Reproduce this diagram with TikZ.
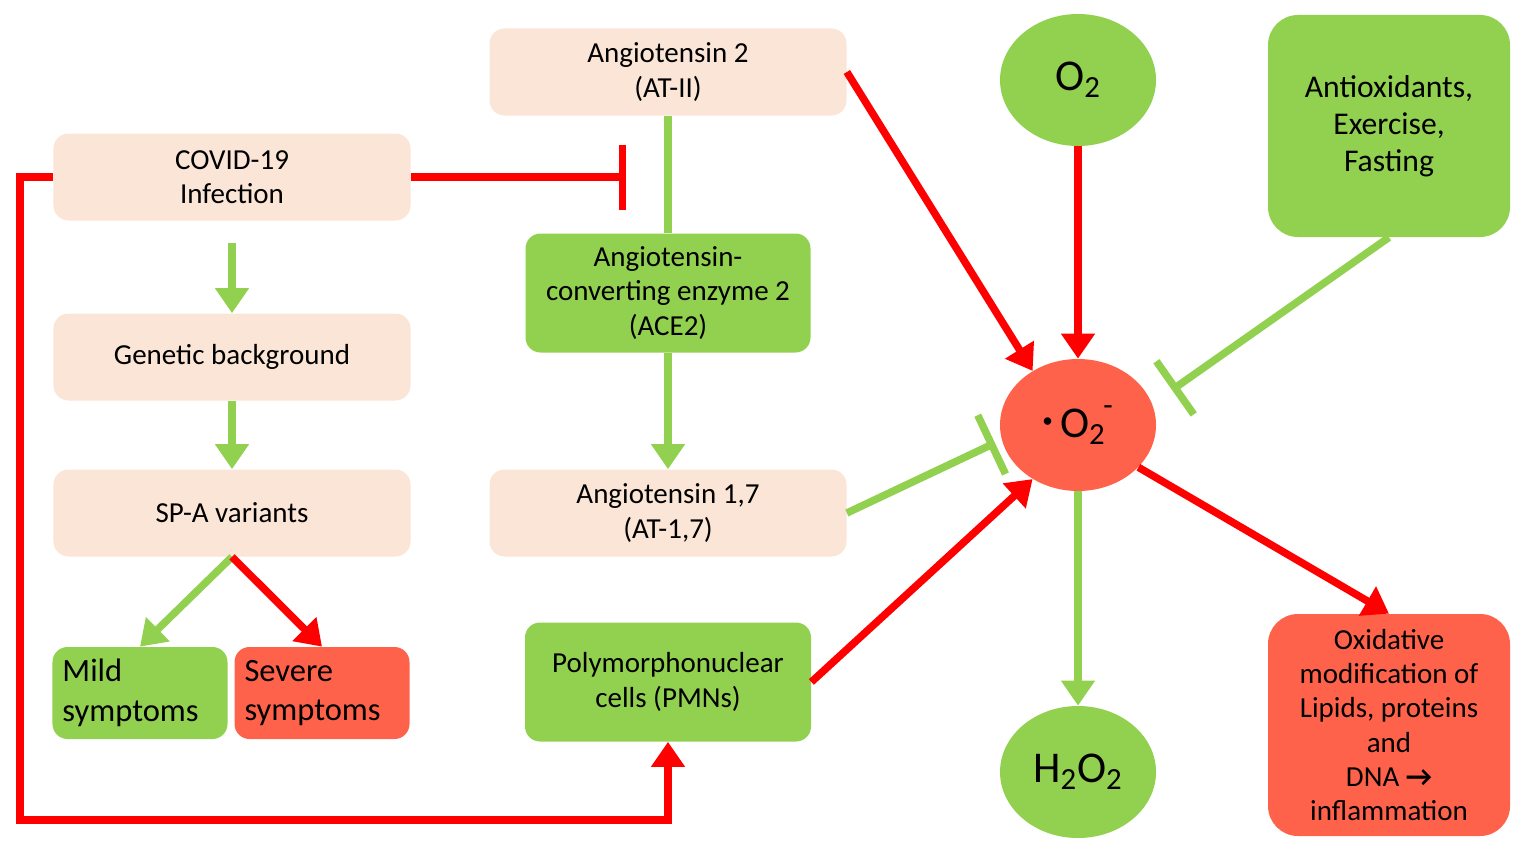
\documentclass[tikz,border=0pt]{standalone}
\usepackage{fontspec}
\setmainfont{Carlito}
\usetikzlibrary{arrows.meta,shapes.geometric}
\definecolor{peach}{HTML}{FBE5D6}
\definecolor{lgreen}{HTML}{92D050}
\definecolor{tomato}{HTML}{FF624A}
\definecolor{ared}{HTML}{FF0000}
\begin{document}
\begin{tikzpicture}[x=0.2mm,y=-0.2mm,
  box/.style={rounded corners=3mm,align=center,inner sep=0pt,font=\fontsize{16.5}{19.5}\selectfont},
  pbox/.style={box,fill=peach,minimum width=71.4mm,minimum height=17.4mm},
  gbox/.style={box,fill=lgreen},
  rbox/.style={box,fill=tomato},
  blob/.style={ellipse,minimum width=31.2mm,minimum height=26.4mm,inner sep=0pt,font=\fontsize{25}{28}\selectfont},
  sbox/.style={minimum width=35mm,minimum height=18.4mm,align=left,text width=31mm,font=\fontsize{18.5}{22.5}\selectfont},
  rl/.style={ared,line width=1.5mm},
  gl/.style={lgreen,line width=1.5mm},
  tip/.style={-{Triangle[width=6.5mm,length=5mm]}},
  bar/.style={-{Bar[width=13mm,line width=1.5mm]}}]
\useasboundingbox (0,0) rectangle (1525,854);
% nodes
\node[pbox] (at2) at (668,72) {Angiotensin 2\\(AT-II)};
\node[pbox] (covid) at (232,177) {COVID-19\\Infection};
\node[pbox] (gen) at (232,357) {Genetic background};
\node[pbox] (spa) at (232,513) {SP-A variants};
\node[gbox,minimum width=57mm,minimum height=23.8mm] (ace) at (668,293) {Angiotensin-\\converting enzyme 2\\(ACE2)};
\node[pbox] (at17) at (668,513) {Angiotensin 1,7\\(AT-1,7)};
\node[gbox,minimum width=57.2mm,minimum height=23.8mm] (pmn) at (668,682) {Polymorphonuclear\\cells (PMNs)};
\node[gbox,sbox] (mild) at (140,693) {Mild\\symptoms};
\node[rbox,sbox] (sev) at (322,693) {Severe\\symptoms};
\node[blob,fill=lgreen] (o2) at (1078,80) {O\textsubscript{2}};
\node[gbox,rounded corners=6mm,minimum width=48.4mm,minimum height=44.4mm,font=\fontsize{18}{21}\selectfont] (anti) at (1389,126) {Antioxidants,\\Exercise,\\Fasting};
\node[blob,fill=tomato] (sup) at (1078,425) {{\raisebox{0.5ex}{\fontsize{12}{12}\selectfont\textbullet}}\,O\textsubscript{2}\kern-0.05em\raisebox{0.3ex}{\textsuperscript{-}}};
\node[blob,fill=lgreen] (h2o2) at (1078,772) {H\textsubscript{2}O\textsubscript{2}};
\node[rbox,rounded corners=6mm,minimum width=48.4mm,minimum height=44.4mm] (oxi) at (1389,725) {Oxidative\\modification of\\Lipids, proteins\\and\\DNA \textbf{→}\\inflammation};
% helper points
\coordinate (t1) at (626,177);
\coordinate (g1) at (232,243);
\coordinate (lp1) at (20,177);
\coordinate (lp2) at (20,820);
\coordinate (lp3) at (668,820);
\coordinate (t2) at (1172,390);
\coordinate (t3) at (995,443);
% connectors
\draw[rl,bar] (covid.east) -- (t1);
\draw[gl] (at2.south) -- (ace.north);
\draw[gl,tip] (ace.south) -- (at17.north);
\draw[gl,tip] (g1) -- (gen.north);
\draw[gl,tip] (gen.south) -- (spa.north);
\draw[gl,tip] (spa.south) -- (mild.north);
\draw[rl,tip] (spa.south) -- (sev.north);
\draw[rl,tip] (covid.west) -- (lp1) -- (lp2) -- (lp3) -- (pmn.south);
\draw[rl,tip] (at2.east) -- (sup.130);
\draw[rl,tip] (o2.south) -- (sup.north);
\draw[gl,bar] (anti.south) -- (t2);
\draw[gl,bar] (at17.east) -- (t3);
\draw[rl,tip] (pmn.east) -- (sup.230);
\draw[gl,tip] (sup.south) -- (h2o2.north);
\draw[rl,tip] (sup.-35) -- (oxi.north);
\end{tikzpicture}
\end{document}
